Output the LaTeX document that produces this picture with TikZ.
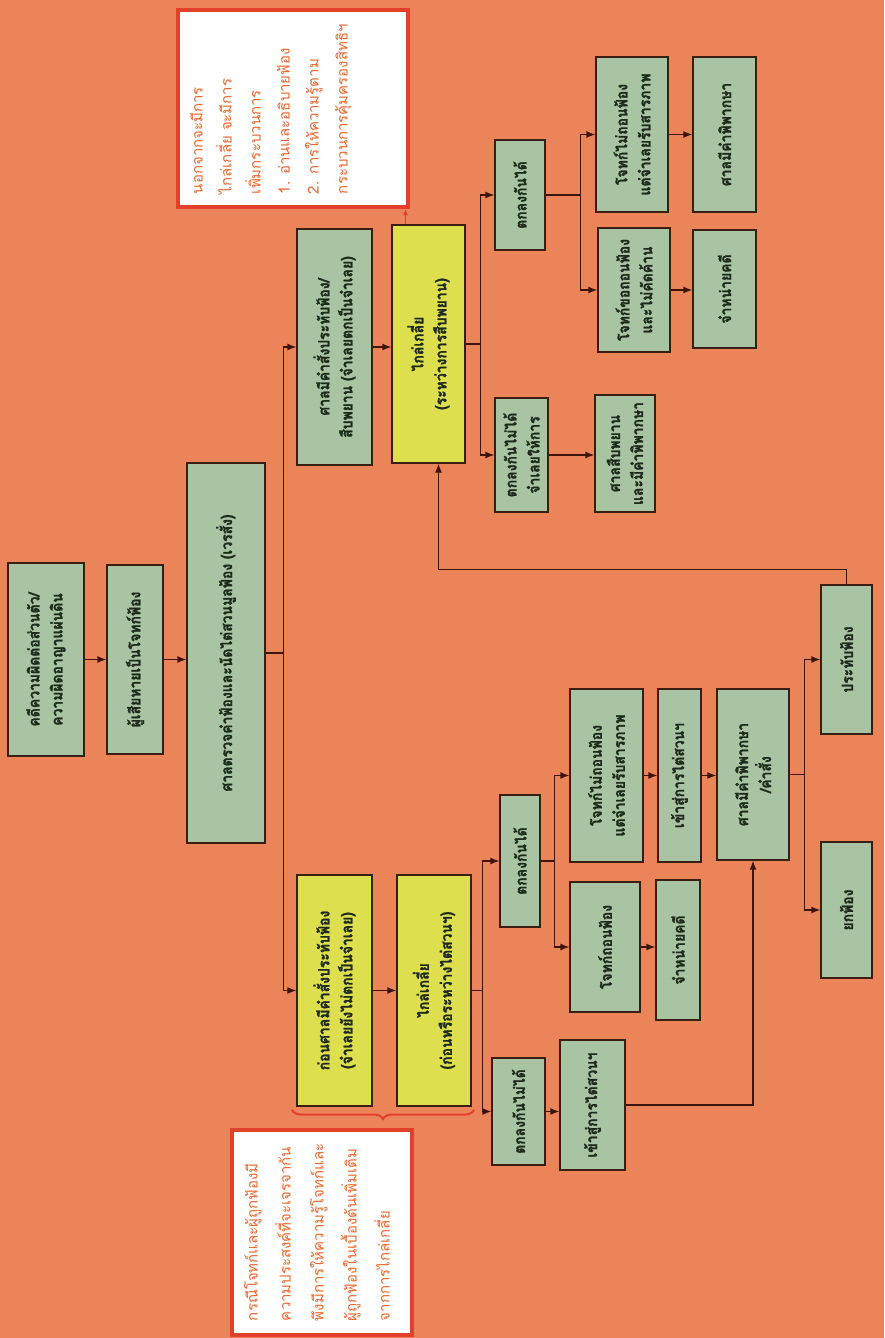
\documentclass[tikz,border=0pt]{standalone}
\usepackage{fontspec}
\setmainfont[Script=Thai]{Loma}
\newfontfamily\boxfont[Script=Thai,FakeStretch=0.9,BoldFeatures={FakeBold=1.3}]{Loma}
\usetikzlibrary{arrows.meta,calc,decorations.pathreplacing}
\definecolor{bgc}{HTML}{EC845A}
\definecolor{grn}{HTML}{A8C4A2}
\definecolor{ylw}{HTML}{DEDF4E}
\definecolor{bord}{HTML}{3A1E12}
\definecolor{lnc}{HTML}{3F140A}
\definecolor{nred}{HTML}{E2402A}
\definecolor{ntxt}{HTML}{E8682E}
\definecolor{btxt}{HTML}{1E2A1C}
\newcommand\bx[7]{\node[#6, minimum width={(#5-#3)*1pt}, minimum height={(#4-#2)*1pt}] (#1) at ({(#2+#4)/2},{(#3+#5)/2}) {#7};}
\tikzset{
 bx/.style={draw=bord, line width=1.3pt, rotate=90, align=center, text=btxt, font=\boxfont\fontsize{15.5}{23}\selectfont\bfseries, inner sep=1pt},
 gbox/.style={bx, fill=grn},
 ybox/.style={bx, fill=ylw},
 note/.style={draw=nred, line width=4pt, fill=white, rotate=90, inner sep=0pt, text=ntxt, font=\fontsize{15}{29}\selectfont},
 arr/.style={draw=lnc, line width=1.3pt, -{Latex[length=9pt,width=7pt]}},
 ln/.style={draw=lnc, line width=1.3pt},
}
\begin{document}
\begin{tikzpicture}[x=1pt,y=-1pt]
\useasboundingbox (0,0) rectangle (884,1338);
\fill[bgc] (0,0) rectangle (884,1338);
% main chain
\bx{b1}{8}{563}{84}{756}{gbox}{คดีความผิดต่อส่วนตัว/\\ความผิดอาญาแผ่นดิน}
\bx{b2}{107}{565}{163}{754}{gbox}{ผู้เสียหายเป็นโจทก์ฟ้อง}
\bx{b3}{187}{463}{265}{843}{gbox}{ศาลตรวจคำฟ้องและนัดไต่สวนมูลฟ้อง (เวรสั่ง)}
% right branch
\bx{rg1}{297}{229}{372}{465}{gbox}{ศาลมีคำสั่งประทับฟ้อง/\\สืบพยาน (จำเลยตกเป็นจำเลย)}
\bx{ry}{392}{225}{465}{463}{ybox}{ไกล่เกลี่ย\\(ระหว่างการสืบพยาน)}
\bx{rno}{495}{398}{548}{512}{gbox}{ตกลงกันไม่ได้\\จำเลยให้การ}
\bx{rcourt}{595}{395}{655}{512}{gbox}{ศาลสืบพยาน\\และมีคำพิพากษา}
\bx{ryes}{495}{140}{545}{250}{gbox}{ตกลงกันได้}
\bx{rwd}{598}{228}{670}{352}{gbox}{โจทก์ขอถอนฟ้อง\\และไม่คัดค้าน}
\bx{rdis}{693}{230}{756}{348}{gbox}{จำหน่ายคดี}
\bx{rnwd}{596}{57}{668}{212}{gbox}{โจทก์ไม่ถอนฟ้อง\\แต่จำเลยรับสารภาพ}
\bx{rjudg}{693}{57}{756}{212}{gbox}{ศาลมีคำพิพากษา}
% left branch
\bx{ly1}{297}{875}{372}{1106}{ybox}{ก่อนศาลมีคำสั่งประทับฟ้อง\\(จำเลยยังไม่ตกเป็นจำเลย)}
\bx{ly2}{397}{875}{471}{1106}{ybox}{ไกล่เกลี่ย\\(ก่อนหรือระหว่างไต่สวนฯ)}
\bx{lno}{492}{1058}{545}{1165}{gbox}{ตกลงกันไม่ได้}
\bx{ltrial}{560}{1040}{625}{1170}{gbox}{เข้าสู่การไต่สวนฯ}
\bx{lyes}{500}{795}{540}{927}{gbox}{ตกลงกันได้}
\bx{lwd}{570}{882}{640}{1012}{gbox}{โจทก์ถอนฟ้อง}
\bx{lnwd}{570}{689}{643}{862}{gbox}{โจทก์ไม่ถอนฟ้อง\\แต่จำเลยรับสารภาพ}
\bx{ldis}{656}{880}{700}{1020}{gbox}{จำหน่ายคดี}
\bx{ltrial2}{658}{689}{701}{862}{gbox}{เข้าสู่การไต่สวนฯ}
\bx{ljudg}{717}{689}{789}{860}{gbox}{ศาลมีคำพิพากษา\\/คำสั่ง}
\bx{lprat}{821}{585}{872}{734}{gbox}{ประทับฟ้อง}
\bx{ldism}{821}{842}{872}{978}{gbox}{ยกฟ้อง}
% notes
\node[note, minimum width=197pt, minimum height=230pt] (rnote) at (293,108.5)
 {\parbox[c][206pt][t]{171pt}{\raggedright นอกจากจะมีการ\\ไกล่เกลี่ย จะมีการ\\เพิ่มกระบวนการ\\1. อ่านและอธิบายฟ้อง\\2. การให้ความรู้ตาม\\กระบวนการคุ้มครองสิทธิฯ}};
\node[note, minimum width=205pt, minimum height=180pt, font=\fontsize{15}{33}\selectfont] (lnote) at (322,1232.5)
 {\parbox[c][156pt][t]{177pt}{\raggedright กรณีโจทก์และผู้ถูกฟ้องมี\\ความประสงค์ที่จะเจรจากัน\\พึงมีการให้ความรู้โจทก์และ\\ผู้ถูกฟ้องในเบื้องต้นเพิ่มเติม\\จากการไกล่เกลี่ย}};
\draw[nred, line width=2pt, decorate, decoration={brace, amplitude=9pt}] (474,1110) -- (292,1110);
\draw[nred, line width=1.2pt, -{Latex[length=6pt,width=5pt]}] ($(ry.east)+(-23,0)$) coordinate (t1) -- (t1 |- rnote.west);
% connectors
\draw[arr] (b1.south) -- (b1.south -| b2.north);
\draw[arr] (b2.south) -- (b2.south -| b3.north);
\draw[ln] (b3.south) -- ++(18,0) coordinate (j1);
\draw[arr] (j1) |- (rg1.north);
\draw[arr] (j1) |- (ly1.north);
\draw[arr] (rg1.south) -- (rg1.south -| ry.north);
\draw[arr] (ly1.south) -- (ly1.south -| ly2.north);
\draw[ln] (ry.south) -- ++(15,0) coordinate (j2);
\draw[arr] (j2) |- (ryes.north);
\draw[arr] (j2) |- (rno.north);
\draw[arr] (rno.south) -- (rno.south -| rcourt.north);
\draw[ln] (ryes.south) -- ++(35,0) coordinate (j3);
\draw[arr] (j3) |- (rnwd.north);
\draw[arr] (j3) |- (rwd.north);
\draw[arr] (rnwd.south) -- (rnwd.south -| rjudg.north);
\draw[arr] (rwd.south) -- (rwd.south -| rdis.north);
\draw[ln] (ly2.south) -- ++(11,0) coordinate (j4);
\draw[arr] (j4) |- (lyes.north);
\draw[arr] (j4) |- (lno.north);
\draw[arr] (lno.south) -- (lno.south -| ltrial.north);
\draw[ln] (lyes.south) -- ++(14,0) coordinate (j5);
\draw[arr] (j5) |- (lnwd.north);
\draw[arr] (j5) |- (lwd.north);
\draw[arr] (lwd.south) -- (lwd.south -| ldis.north);
\draw[arr] (lnwd.south) -- (lnwd.south -| ltrial2.north);
\draw[arr] (ltrial2.south) -- (ltrial2.south -| ljudg.north);
\draw[arr] (ltrial.south) -| (ljudg.west);
\draw[ln] (ljudg.south) -- ++(15,0) coordinate (j6);
\draw[arr] (j6) |- (lprat.north);
\draw[arr] (j6) |- (ldism.north);
\draw[arr] (lprat.east) -- ++(0,-15) -| ($(ry.west)+(10,0)$);
\end{tikzpicture}
\end{document}
